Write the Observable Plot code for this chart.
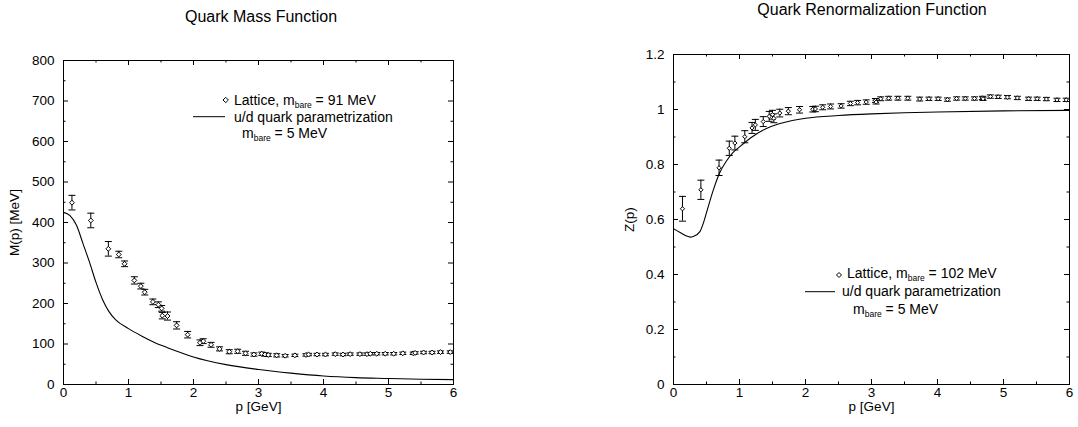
<!DOCTYPE html>
<html>
<head>
<meta charset="utf-8">
<script src="https://cdn.jsdelivr.net/npm/d3@7"></script>
<script src="https://cdn.jsdelivr.net/npm/@observablehq/plot@0.6"></script>
<style>
  html, body { margin: 0; padding: 0; background: #fff; }
  #wrap { position: relative; width: 1078px; height: 427px; overflow: hidden; font-family: "Liberation Sans", Arial, sans-serif; }
  #left, #right, #overlay { position: absolute; top: 0; }
  #left { left: 0; }
  #right { left: 600px; }
  #overlay { left: 0; pointer-events: none; }
  svg { overflow: visible; }
</style>
</head>
<body>
<div id="wrap">
  <div id="left"></div>
  <div id="right"></div>
  <svg id="overlay" width="1078" height="427" font-family="Liberation Sans, Arial, sans-serif" fill="black">
    <text x="261" y="22" text-anchor="middle" font-size="16">Quark Mass Function</text>
    <text x="872" y="15" text-anchor="middle" font-size="16">Quark Renormalization Function</text>

    <path d="M225.7,97.3L228.4,100L225.7,102.7L223,100Z" fill="white" stroke="black" stroke-width="1"/>
    <text x="234" y="105" font-size="14">Lattice, m<tspan dy="3" font-size="8.5">bare</tspan><tspan dy="-3"> = 91 MeV</tspan></text>
    <line x1="193" x2="225" y1="116.7" y2="116.7" stroke="black" stroke-width="1"/>
    <text x="234" y="121.7" font-size="14">u/d quark parametrization</text>
    <text x="242" y="138.3" font-size="14">m<tspan dy="3" font-size="8.5">bare</tspan><tspan dy="-3"> = 5 MeV</tspan></text>

    <path d="M839,272.5L841.5,275L839,277.5L836.5,275Z" fill="white" stroke="black" stroke-width="1"/>
    <text x="847" y="278.3" font-size="14">Lattice, m<tspan dy="3" font-size="8.5">bare</tspan><tspan dy="-3"> = 102 MeV</tspan></text>
    <line x1="805" x2="835" y1="291.7" y2="291.7" stroke="black" stroke-width="1"/>
    <text x="842" y="295.7" font-size="14">u/d quark parametrization</text>
    <text x="853" y="314.3" font-size="14">m<tspan dy="3" font-size="8.5">bare</tspan><tspan dy="-3"> = 5 MeV</tspan></text>
  </svg>
</div>
<script>
// ---------- Data: Quark Mass Function ----------
const massP   = [0.13, 0.42, 0.69, 0.85, 0.94, 1.09, 1.19, 1.25, 1.375, 1.46, 1.51, 1.52, 1.60, 1.74, 1.91, 2.10, 2.15, 2.27, 2.40, 2.55, 2.68, 2.80, 2.93, 3.05, 3.10, 3.15, 3.28, 3.41, 3.56, 3.73, 3.77, 3.90, 4.03, 4.18, 4.30, 4.41, 4.56, 4.67, 4.72, 4.82, 4.95, 5.08, 5.22, 5.38, 5.41, 5.54, 5.67, 5.80, 5.95];
const massM   = [449, 405, 335, 321, 298, 257, 243, 228, 204, 197, 188, 170, 169, 146, 123, 103, 107, 98, 88, 81, 82, 77, 74, 76, 74, 73, 72, 71, 72, 73, 74, 74, 74, 75, 74, 75, 75, 75, 76, 76, 76, 76, 77, 77, 78, 79, 79, 80, 80];
const massErr = [18, 18, 18, 8, 7, 9, 7, 7, 7, 7, 7, 8, 10, 9, 8, 7, 6, 6, 5, 5, 5, 5, 4, 4, 4, 4, 4, 3, 3, 3, 3, 3, 3, 3, 3, 3, 3, 3, 3, 3, 3, 3, 3, 3, 3, 3, 3, 3, 3];
const massCurveP = [0, 0.1, 0.2, 0.3, 0.4, 0.5, 0.6, 0.7, 0.8, 1.0, 1.2, 1.4, 1.6, 1.8, 2.0, 2.5, 3.0, 3.5, 4.0, 4.5, 5.0, 5.5, 6.0];
const massCurveM = [425, 417, 393, 348, 302, 252, 210, 180, 160, 138, 120, 104, 91, 79, 68, 49, 37, 28, 21, 17, 15, 13, 12];

// ---------- Data: Quark Renormalization Function ----------
const zP   = [0.136, 0.415, 0.69, 0.845, 0.93, 1.08, 1.19, 1.24, 1.36, 1.45, 1.50, 1.52, 1.61, 1.74, 1.91, 2.11, 2.15, 2.26, 2.38, 2.54, 2.68, 2.79, 2.92, 3.06, 3.07, 3.14, 3.26, 3.40, 3.55, 3.73, 3.87, 4.01, 4.15, 4.29, 4.42, 4.56, 4.68, 4.69, 4.80, 4.92, 5.06, 5.21, 5.38, 5.51, 5.65, 5.81, 5.95];
const zZ   = [0.639, 0.708, 0.788, 0.859, 0.878, 0.901, 0.933, 0.944, 0.956, 0.975, 0.981, 0.968, 0.987, 0.994, 0.999, 1.001, 1.002, 1.008, 1.011, 1.013, 1.022, 1.025, 1.027, 1.033, 1.027, 1.039, 1.041, 1.041, 1.041, 1.038, 1.039, 1.039, 1.036, 1.040, 1.040, 1.040, 1.042, 1.039, 1.047, 1.046, 1.045, 1.042, 1.039, 1.039, 1.038, 1.035, 1.035];
const zErr = [0.045, 0.035, 0.028, 0.026, 0.025, 0.022, 0.02, 0.02, 0.018, 0.018, 0.016, 0.016, 0.014, 0.013, 0.012, 0.01, 0.01, 0.009, 0.009, 0.008, 0.008, 0.008, 0.008, 0.007, 0.007, 0.007, 0.007, 0.007, 0.007, 0.007, 0.006, 0.006, 0.006, 0.006, 0.006, 0.006, 0.006, 0.006, 0.006, 0.006, 0.006, 0.006, 0.006, 0.006, 0.006, 0.006, 0.006];
const zCurveP = [0, 0.1, 0.2, 0.25, 0.3, 0.4, 0.45, 0.5, 0.6, 0.7, 0.8, 0.9, 1.0, 1.2, 1.4, 1.6, 1.8, 2.0, 2.5, 3.0, 3.5, 4.0, 5.0, 6.0];
const zCurveZ = [0.566, 0.553, 0.540, 0.536, 0.538, 0.556, 0.585, 0.625, 0.705, 0.770, 0.812, 0.843, 0.864, 0.902, 0.930, 0.948, 0.960, 0.968, 0.978, 0.984, 0.988, 0.991, 0.995, 0.997];

// ---------- Tick labels ----------
const xMajor = [0, 1, 2, 3, 4, 5, 6];
const xMinor = [0.5, 1.5, 2.5, 3.5, 4.5, 5.5];
const mMajor = [0, 100, 200, 300, 400, 500, 600, 700, 800];
const mMinor = [50, 150, 250, 350, 450, 550, 650, 750];
const zMajor = [0, 0.2, 0.4, 0.6, 0.8, 1, 1.2];
const zMinor = [0.1, 0.3, 0.5, 0.7, 0.9, 1.1];

const capSymbol = {
  draw(context, size) {
    const r = Math.sqrt(size / Math.PI);
    context.moveTo(-r, 0);
    context.lineTo(r, 0);
  }
};

function frameTicks(pw, ph, xMaj, xMin, yMaj, yMin) {
  const big = 5, small = 2.5;
  const fx = d => d;
  return [
    Plot.tickX(xMaj, {x: fx, insetTop: ph - big, stroke: "black"}),
    Plot.tickX(xMaj, {x: fx, insetBottom: ph - big, stroke: "black"}),
    Plot.tickX(xMin, {x: fx, insetTop: ph - small, stroke: "black"}),
    Plot.tickX(xMin, {x: fx, insetBottom: ph - small, stroke: "black"}),
    Plot.tickY(yMaj, {y: fx, insetRight: pw - big, stroke: "black"}),
    Plot.tickY(yMaj, {y: fx, insetLeft: pw - big, stroke: "black"}),
    Plot.tickY(yMin, {y: fx, insetRight: pw - small, stroke: "black"}),
    Plot.tickY(yMin, {y: fx, insetLeft: pw - small, stroke: "black"})
  ];
}

function panel(opts) {
  const {width, height, mt, mb, ml, mr, yDomain, yMaj, yMin, yLabel, yLabelOffset,
         pts, curve, dotR} = opts;
  const pw = width - ml - mr, ph = height - mt - mb;
  return Plot.plot({
    width, height,
    marginTop: mt, marginBottom: mb, marginLeft: ml, marginRight: mr,
    style: {fontFamily: "Liberation Sans, Arial, sans-serif", fontSize: "13.5px", color: "black", background: "transparent", overflow: "visible"},
    x: {domain: [0, 6]},
    y: {domain: yDomain},
    marks: [
      Plot.axisX(xMajor, {tickSize: 0, tickPadding: 3, tickFormat: d3.format("~g"),
        label: "p [GeV]", labelAnchor: "center", labelOffset: 26, labelArrow: "none", fontSize: 13.5}),
      Plot.axisY(yMaj, {tickSize: 0, tickPadding: 9, tickFormat: d3.format("~g"),
        label: yLabel, labelAnchor: "center", labelOffset: yLabelOffset, labelArrow: "none", fontSize: 13.5}),
      ...frameTicks(pw, ph, xMajor, xMinor, yMaj, yMin),
      Plot.line(curve, {x: "p", y: "v", stroke: "black", strokeWidth: 1.1, curve: "monotone-x"}),
      Plot.ruleX(pts, {x: "p", y1: d => d.v - d.e, y2: d => d.v + d.e, stroke: "black", strokeWidth: 1}),
      Plot.dot(pts, {x: "p", y: d => d.v + d.e, symbol: capSymbol, r: 3.5, stroke: "black", fill: "none", strokeWidth: 1}),
      Plot.dot(pts, {x: "p", y: d => d.v - d.e, symbol: capSymbol, r: 3.5, stroke: "black", fill: "none", strokeWidth: 1}),
      Plot.dot(pts, {x: "p", y: "v", symbol: "diamond2", r: dotR, stroke: "black", fill: "white", strokeWidth: 1}),
      Plot.frame({stroke: "black", strokeWidth: 1})
    ]
  });
}

const massPts = massP.map((p, i) => ({p, v: massM[i], e: massErr[i]}));
const massCurve = massCurveP.map((p, i) => ({p, v: massCurveM[i]}));
const zPts = zP.map((p, i) => ({p, v: zZ[i], e: zErr[i]}));
const zCurve = zCurveP.map((p, i) => ({p, v: zCurveZ[i]}));

document.getElementById("left").appendChild(panel({
  width: 470, height: 427, mt: 60, mb: 43, ml: 63, mr: 17,
  yDomain: [0, 800], yMaj: mMajor, yMin: mMinor, yLabel: "M(p) [MeV]", yLabelOffset: 54,
  pts: massPts, curve: massCurve, dotR: 2.2
}));
document.getElementById("right").appendChild(panel({
  width: 478, height: 427, mt: 54, mb: 43, ml: 73, mr: 9,
  yDomain: [0, 1.2], yMaj: zMajor, yMin: zMinor, yLabel: "Z(p)", yLabelOffset: 49,
  pts: zPts, curve: zCurve, dotR: 1.9
}));
</script>
</body>
</html>
